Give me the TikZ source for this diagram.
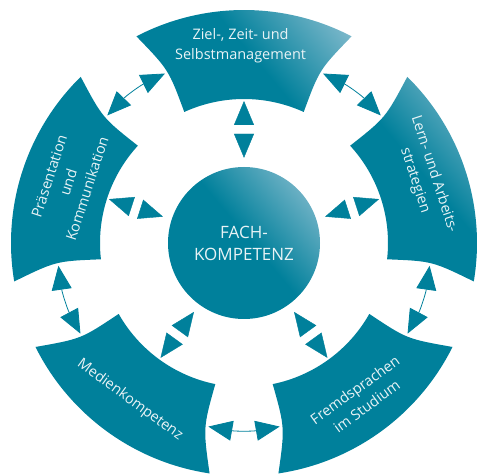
\documentclass[tikz,border=0pt]{standalone}
\usepackage{fontspec}
\setmainfont{Open Sans}
\usepackage{xcolor}
\usepackage{tikz}
\usetikzlibrary{arrows.meta, calc}
\definecolor{ringteal}{HTML}{00809B}
\definecolor{ringlight}{HTML}{78B6C9}
\definecolor{labelwhite}{HTML}{E8F3F6}
\pgfdeclarehorizontalshading{glow}{100bp}{color(0bp)=(ringteal); color(52bp)=(ringteal); color(78bp)=(ringlight); color(100bp)=(ringlight)}

\begin{document}
\begin{tikzpicture}[x=1pt, y=1pt,
    piece/.style={fill=ringteal},
    lit/.style={shade, shading=glow, shading angle=#1},
    litpiece/.style={lit=40},
    seglabel/.style={text=labelwhite, align=center,
                     font=\fontsize{14.5}{20}\selectfont},
    radial/.style={draw=white, thin, shorten <=9pt, shorten >=2pt,
                   {Triangle[length=24pt, width=20pt, color=ringteal]}-{Triangle[length=24pt, width=20pt, color=ringteal]}},
    link/.style={draw=ringteal, line width=0.8pt,
                 {Triangle[length=24pt, width=20pt]}-{Triangle[length=24pt, width=20pt]}}
  ]
    \useasboundingbox (0,0) rectangle (483,475);
    \coordinate (c) at (244,232);

    % ring pieces: outer arc, concave side, inner arc, concave side
    \foreach \a/\look in {90/litpiece, 18/litpiece, -54/piece, -126/piece, 162/piece}{
      \path[\look] ($(c)+(\a+27.5:233)$)
        arc[start angle=\a+27.5, end angle=\a-27.5, radius=233]
        .. controls ($(c)+(\a-23.5:189)$) .. ($(c)+(\a-24.5:144)$)
        arc[start angle=\a-24.5, end angle=\a+24.5, radius=144]
        .. controls ($(c)+(\a+23.5:189)$) .. cycle;
    }

    % centre
    \node[circle, minimum size=152pt, inner sep=0pt, lit=40, text=labelwhite,
          align=center, font=\fontsize{17}{22}\selectfont] (fach) at (c)
      {FACH-\\KOMPETENZ};

    % labels
    \node[seglabel] (ziel) at ($(c)+(91:197)$)
      {Ziel-, Zeit- und\\Selbstmanagement};
    \node[seglabel, rotate=-72] (lern) at ($(c)+(20:192)$)
      {Lern- und Arbeits-\\strategien};
    \node[seglabel, rotate=36] (fremd) at ($(c)+(-53:194)$)
      {Fremdsprachen\\im Studium};
    \node[seglabel, rotate=-36] (medien) at ($(c)+(-126:194)$)
      {Medienkompetenz};
    \node[seglabel, rotate=72] (praes) at ($(c)+(161:186)$)
      {Präsentation\\und\\Kommunikation};

    % contact points on the ring pieces
    \foreach \a/\n in {90/ziel, 18/lern, -54/fremd, -126/medien, 162/praes}{
      \coordinate (\n-in) at ($(c)+(\a:144)$);
      \coordinate (\n-cw) at ($(c)+(\a-25:187)$);
      \coordinate (\n-ccw) at ($(c)+(\a+25:187)$);
    }

    % centre <-> pieces
    \foreach \a/\n in {90/ziel, 18/lern, -54/fremd, -126/medien, 162/praes}
      \draw[radial] (fach.\a) -- (\n-in);

    % neighbour <-> neighbour
    \draw[link] (ziel-ccw) to[bend right=10] (praes-cw);
    \draw[link] (praes-ccw) to[bend right=10] (medien-cw);
    \draw[link] (medien-ccw) to[bend right=10] (fremd-cw);
    \draw[link] (fremd-ccw) to[bend right=10] (lern-cw);
    \draw[link] (lern-ccw) to[bend right=10] (ziel-cw);
\end{tikzpicture}
\end{document}
